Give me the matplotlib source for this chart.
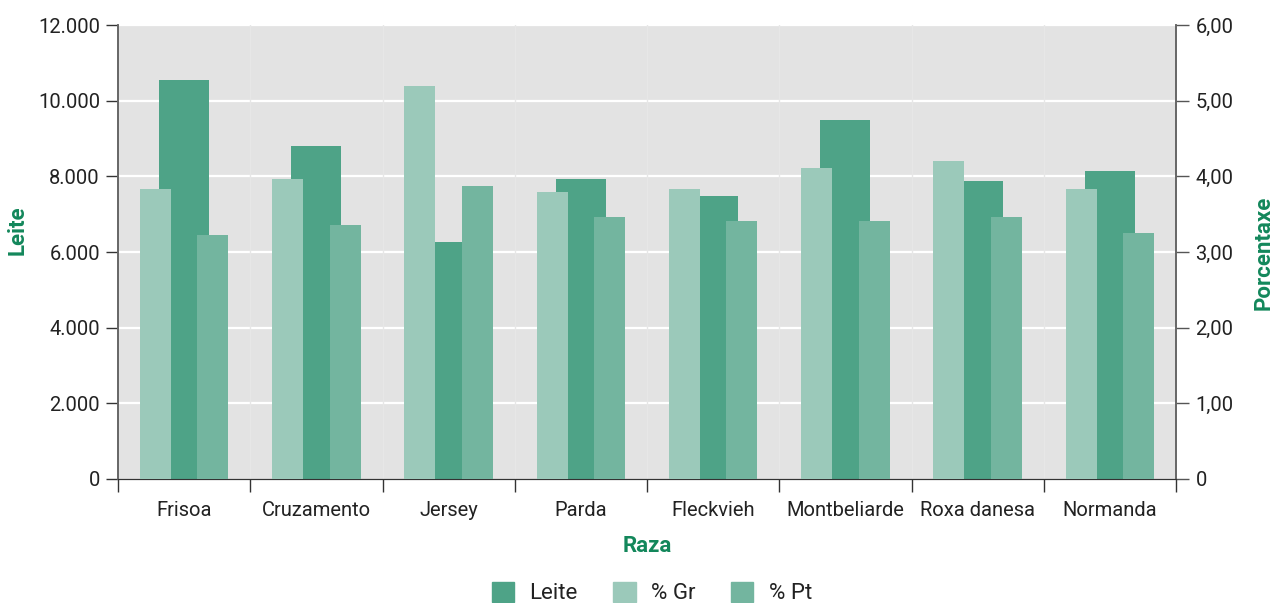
import matplotlib
matplotlib.use("Agg")
import matplotlib.pyplot as plt
from matplotlib.patches import Patch
from matplotlib.ticker import FixedLocator, FuncFormatter
import numpy as np

plt.rcParams['font.family'] = ['Roboto', 'DejaVu Sans']

# data
razas = ["Frisoa", "Cruzamento", "Jersey", "Parda", "Fleckvieh",
         "Montbeliarde", "Roxa danesa", "Normanda"]
leite = [10550, 8800, 6265, 7930, 7480, 9490, 7880, 8140]
pct_gr = [3.83, 3.97, 5.19, 3.79, 3.83, 4.11, 4.20, 3.83]
pct_pt = [3.22, 3.36, 3.87, 3.46, 3.41, 3.41, 3.46, 3.25]

c_leite = '#4ea387'
c_gr = '#9bc9ba'
c_pt = '#73b59f'
c_green = '#13875b'
c_text = '#222222'
fs = 14.5

fig = plt.figure(figsize=(12.74, 6.03), dpi=100)
ax = fig.add_axes([118/1274, 1-479/603, (1176-118)/1274, (479-25)/603])
ax2 = ax.twinx()

x = np.arange(len(razas))
ax.set_facecolor('#e3e3e3')
ax.bar(x, leite, width=0.378, color=c_leite, zorder=3)
ax2.bar(x - 0.218, pct_gr, width=0.234, color=c_gr, zorder=3)
ax2.bar(x + 0.218, pct_pt, width=0.234, color=c_pt, zorder=3)

ax.set_xlim(-0.5, len(razas) - 0.5)
ax.set_ylim(0, 12000)
ax2.set_ylim(0, 6)

ax.yaxis.set_major_locator(FixedLocator(np.arange(0, 12001, 2000)))
ax.yaxis.set_major_formatter(FuncFormatter(lambda v, p: f"{int(v):,}".replace(",", ".")))
ax2.yaxis.set_major_locator(FixedLocator(np.arange(0, 6.01, 1)))
ax2.yaxis.set_major_formatter(FuncFormatter(lambda v, p: "0" if v == 0 else f"{v:.2f}".replace(".", ",")))

# gridlines
for v in np.arange(2000, 12001, 2000):
    ax.axhline(v, color='white', lw=1.6, zorder=1)
for b in np.arange(0.5, len(razas) - 0.5, 1):
    ax.axvline(b, color='#e7e7e7', lw=1, zorder=1)

# x ticks at group boundaries, labels centred
ax.set_xticks(np.arange(-0.5, len(razas), 1))
ax.set_xticklabels([])
ax.set_xticks(x, minor=True)
ax.set_xticklabels(razas, minor=True)
ax.tick_params(axis='x', which='major', length=9, width=1, color='#333333', direction='out')
ax.tick_params(axis='x', which='minor', length=0, pad=16, labelsize=fs, labelcolor=c_text)
ax.tick_params(axis='y', length=9, width=1, color='#333333', pad=4, labelsize=fs, labelcolor=c_text)
ax2.tick_params(axis='y', length=9, width=1, color='#555555', pad=5, labelsize=fs, labelcolor=c_text)

for a in (ax, ax2):
    a.spines['top'].set_visible(False)
    a.spines['left'].set_color('#666666')
    a.spines['right'].set_color('#666666')
    a.spines['bottom'].set_color('#333333')
    a.spines['left'].set_linewidth(1.2)
    a.spines['right'].set_linewidth(1.2)

ax.set_xlabel("Raza", fontsize=16, fontweight='bold', color=c_green)
ax.xaxis.set_label_coords((647-118)/(1176-118), -(546-479)/(479-25), transform=ax.transAxes)
ax.xaxis.label.set_va('center')
ax.set_ylabel("Leite", fontsize=16, fontweight='bold', color=c_green)
ax.yaxis.set_label_coords(-(118-18)/(1176-118), (479-230)/(479-25))
ax.yaxis.label.set_va('center')
ax2.set_ylabel("Porcentaxe", fontsize=16, fontweight='bold', color=c_green, rotation=90)
ax2.yaxis.set_label_coords(1+(1264-1176)/(1176-118), (479-253)/(479-25))
ax2.yaxis.label.set_va('center')

handles = [Patch(color=c_leite, label="Leite"),
           Patch(color=c_gr, label="% Gr"),
           Patch(color=c_pt, label="% Pt")]
fig.legend(handles=handles, loc='center', bbox_to_anchor=(652/1274, 1-593/603),
           ncol=3, frameon=False, fontsize=16, handlelength=1.0, handleheight=1.0,
           handletextpad=0.7, columnspacing=1.6, labelcolor=c_text)

fig.savefig("out.png", dpi=100)
